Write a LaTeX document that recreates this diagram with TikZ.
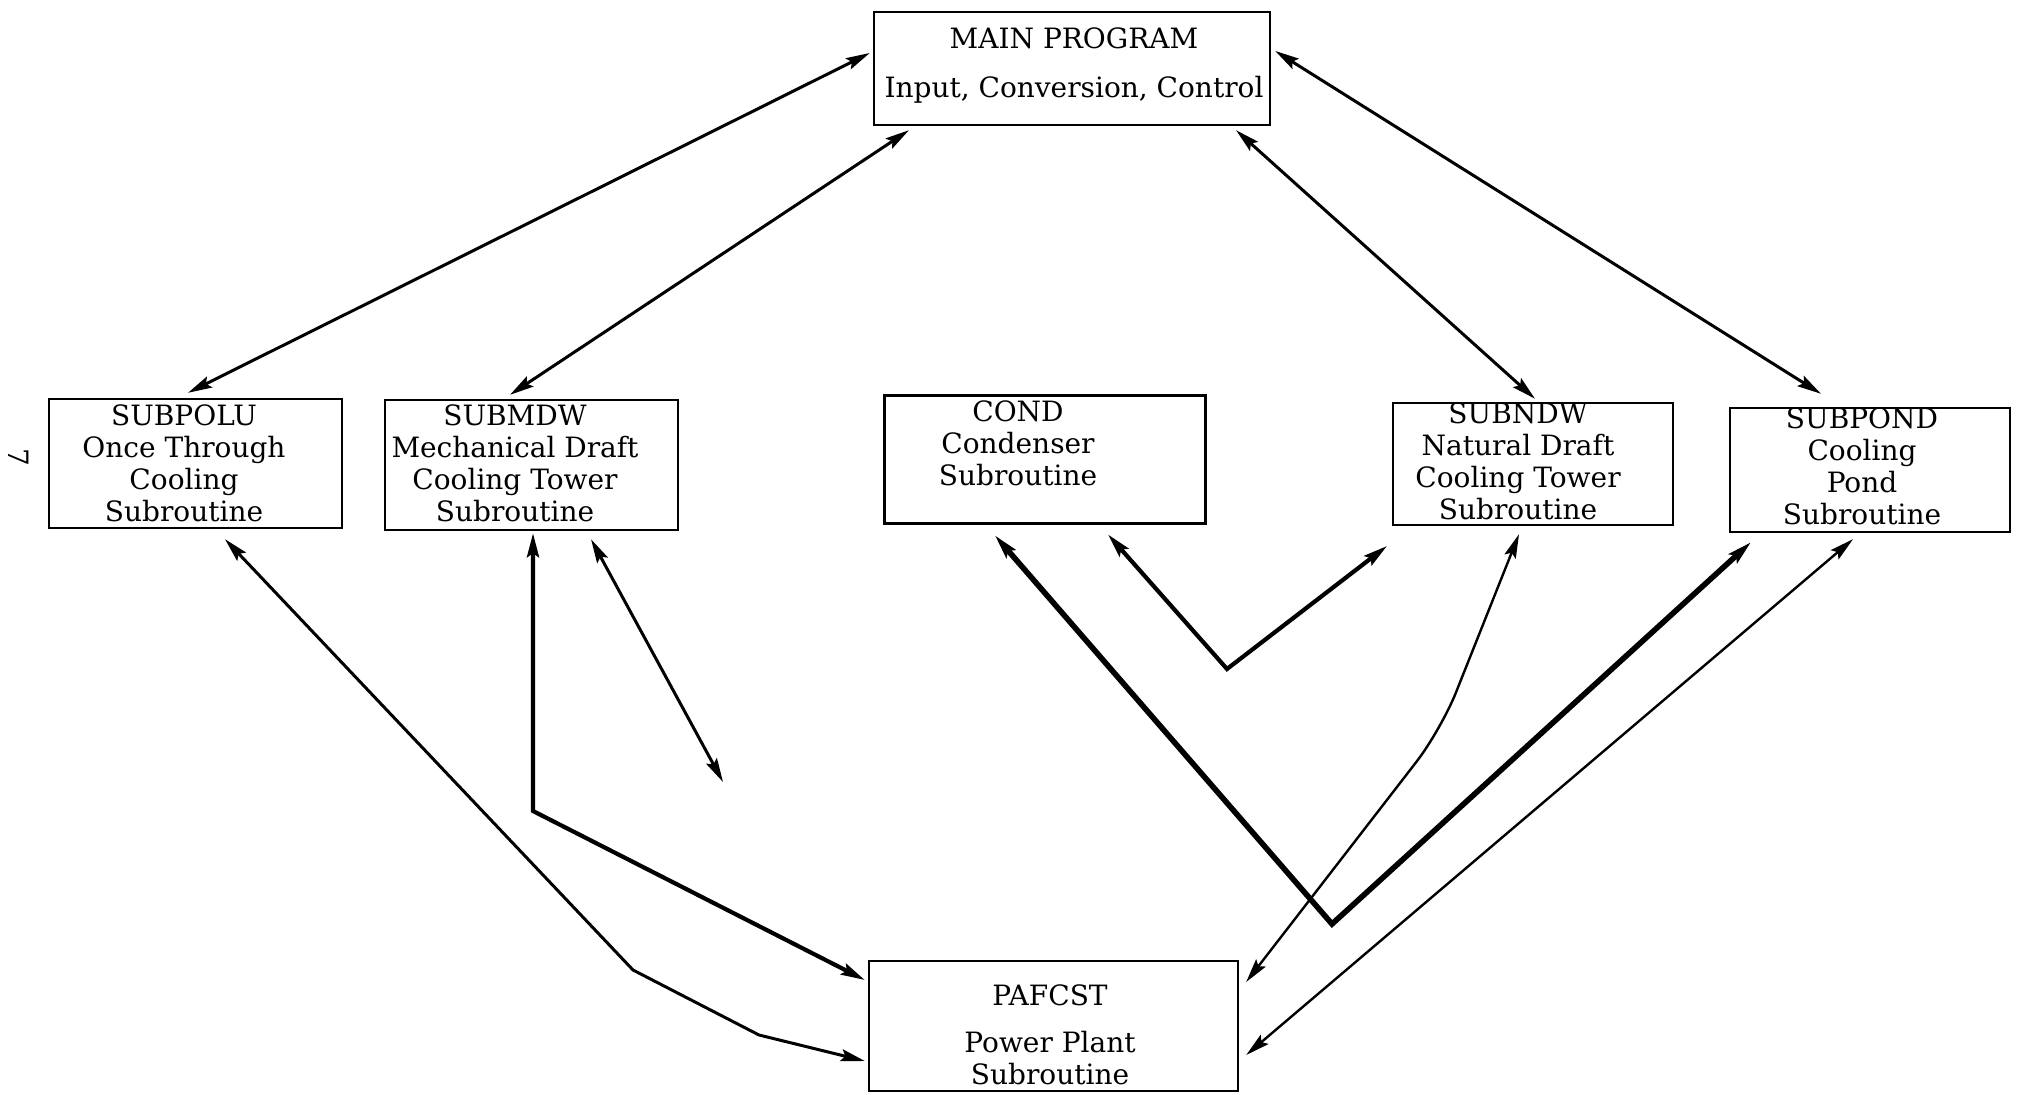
\documentclass[tikz,border=0pt]{standalone}
\usepackage{fontspec}
\setmainfont{DejaVu Serif}
\usetikzlibrary{arrows.meta,calc}
\begin{document}
\begin{tikzpicture}[x=0.5pt,y=-0.5pt,
  box/.style={draw, rectangle, line width=1.2pt, inner sep=0pt},
  lbl/.style={align=center, font=\fontsize{14}{16}\selectfont, inner sep=0pt},
  tip/.tip={Stealth[length=12pt,width=6pt,inset=2pt]},
  link/.style={line width=1.5pt, tip-tip, line join=miter},
  heavy/.style={link, line width=2.8pt},
  medium/.style={link, line width=2.1pt},
  light/.style={link, line width=1.2pt}]
\useasboundingbox (0,0) rectangle (2018,1095);

% program blocks
\node[box, minimum width=198pt,   minimum height=56.5pt] (main)    at (1072,68.5) {};
\node[box, minimum width=146.5pt, minimum height=64.5pt] (subpolu) at (195.5,463.5) {};
\node[box, minimum width=146.5pt, minimum height=65pt]   (submdw)  at (531.5,465) {};
\node[box, minimum width=160.5pt, minimum height=64pt, line width=1.5pt] (cond) at (1044.5,460) {};
\node[box, minimum width=140pt,   minimum height=61pt]   (subndw)  at (1533,464) {};
\node[box, minimum width=140pt,   minimum height=62pt]   (subpond) at (1870,470) {};
\node[box, minimum width=184.5pt, minimum height=65pt]   (pafcst)  at (1053.5,1026) {};

% block captions
\node[lbl] (t-main)    at (1074,66)  {MAIN PROGRAM\\[8.5pt]Input, Conversion, Control};
\node[lbl] (t-subpolu) at (184,463)  {SUBPOLU\\Once Through\\Cooling\\Subroutine};
\node[lbl] (t-submdw)  at (515,463)  {SUBMDW\\Mechanical Draft\\Cooling Tower\\Subroutine};
\node[lbl] (t-cond)    at (1018,443) {COND\\Condenser\\Subroutine};
\node[lbl] (t-subndw)  at (1518,461) {SUBNDW\\Natural Draft\\Cooling Tower\\Subroutine};
\node[lbl] (t-subpond) at (1862,466) {SUBPOND\\Cooling\\Pond\\Subroutine};
\node[lbl] (t-pafcst)  at (1050,1035) {PAFCST\\[7.5pt]Power Plant\\Subroutine};

% page number
\node[lbl, rotate=-90] (pageno) at (19,457) {7};

% free ends of open connectors
\coordinate (freeA) at (723,782);
\coordinate (freeB) at (1387,546);

% main program to the subroutines
\draw[link] ($(main.west)+(-3,-15.5)$) -- ($(subpolu.north)+(-7.5,-5)$);
\draw[link] ($(main.south)+(-163,4)$) -- ($(submdw.north)+(-21.5,-4)$);
\draw[link] ($(main.south)+(164,4)$) -- ($(subndw.north)+(2,-3)$);
\draw[link] ($(main.east)+(4,-17.5)$) -- ($(subpond.north)+(-49,-13)$);

% links among the subroutines
\draw[link] ($(subpolu.south)+(29.5,10)$) -- (633,970) -- (759,1035) -- ($(pafcst.west)+(-3,35)$);
\draw[medium] ($(submdw.south)+(1.5,2)$) -- (533,811) -- ($(pafcst.west)+(-3,-46)$);
\draw[link] ($(submdw.south)+(59.5,8)$) -- (freeA);
\draw[heavy] ($(cond.south)+(-49.5,10)$) -- (1332,924) -- ($(subpond.south)+(-119,9)$);
\draw[medium] ($(cond.south)+(63.5,9)$) -- (1227,669) -- (freeB);
\draw[light, rounded corners=20pt] ($(subndw.south)+(-14,8)$) -- (1441,730) -- ($(pafcst.east)+(7,-44)$);
\draw[light] ($(subpond.south)+(-17,6)$) -- ($(pafcst.east)+(7,29)$);
\end{tikzpicture}
\end{document}
